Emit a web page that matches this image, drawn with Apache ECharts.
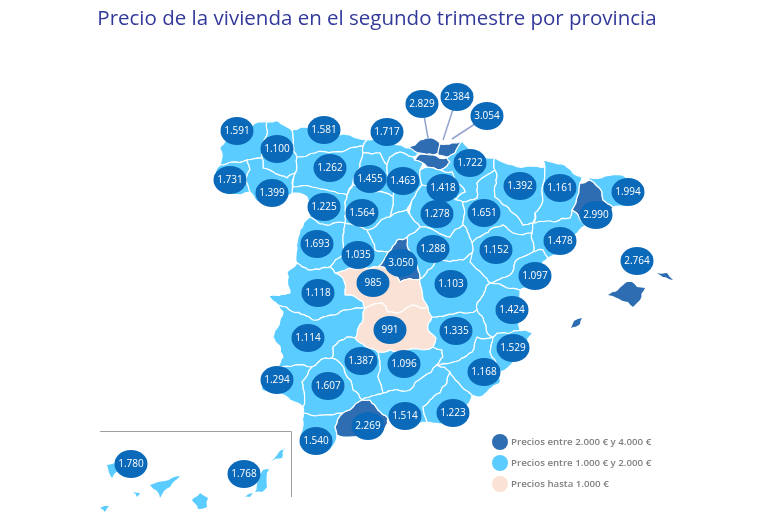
<!DOCTYPE html>
<html>
<head>
<meta charset="utf-8">
<style>html,body{margin:0;padding:0;background:#fff}#main{width:768px;height:527px}</style>
<script src="https://cdn.jsdelivr.net/npm/echarts@6/dist/echarts.min.js"></script>
</head>
<body>
<div id="main"></div>
<script>
// precios por provincia (€/m2)
var provincias = ['A Coruña','Lugo','Pontevedra','Ourense','Asturias','Cantabria','León','Palencia','Burgos','Zamora','Valladolid',
  'La Rioja','Soria','Navarra','Huesca','Lleida','Girona','Barcelona','Zaragoza','Tarragona','Salamanca','Ávila','Madrid','Guadalajara',
  'Teruel','Toledo','Castellón','Cáceres','Cuenca','Valencia','Ciudad Real','Albacete','Badajoz','Alicante','Córdoba','Jaén','Murcia',
  'Huelva','Sevilla','Cádiz','Málaga','Granada','Almería','Santa Cruz de Tenerife','Las Palmas','Baleares','Bizkaia','Gipuzkoa','Álava'];
var precios = [1591,1100,1731,1399,1581,1717,1262,1455,1463,1225,1564,
  1418,1278,1722,1392,1161,1994,2990,1651,1478,1693,1035,3050,1288,
  1152,985,1097,1118,1103,1424,991,1335,1114,1529,1387,1096,1168,
  1294,1607,1540,2269,1514,1223,1780,1768,2764,2829,2384,3054];

// tramos de la leyenda
var tramos = ['Precios entre 2.000 € y 4.000 €','Precios entre 1.000 € y 2.000 €','Precios hasta 1.000 €'];

// islas: sin borde blanco, si no desaparecen
var islas = ['Santa Cruz de Tenerife','Las Palmas','Baleares'];

// contornos dibujados a mano: x,y de cada vertice, cp = donde va la burbuja, tip = final de la linea
var contornos = {
  'A Coruña': {cp:[237,131], p:['267,122 258,122 245,127 232,128 226,140 220,147 222,157 220,165 232,162 247,160 262,158 263,147 267,135']},
  'Lugo': {cp:[277,149], p:['267,122 278,121 292,130 293,145 297,157 296,172 287,178 263,168 262,158 263,147 267,135']},
  'Pontevedra': {cp:[230,180], p:['220,165 232,162 247,160 250,170 246,180 250,192 232,194 218,190 214,178']},
  'Ourense': {cp:[272,193], p:['247,160 262,158 263,168 287,178 296,172 292,183 293,193 287,198 272,203 258,202 250,192 246,180 250,170']},
  'Asturias': {cp:[324,130], p:['292,130 310,128 330,131 350,135 367,140 363,146 350,148 333,152 315,153 297,157 293,145']},
  'Cantabria': {cp:[387,132], p:['367,140 385,140 407,148 415,145 420,153 416,156 413,157 400,152 390,157 387,165 380,153 363,153 363,146']},
  'León': {cp:[330,168], p:['297,157 315,153 333,152 350,148 363,146 363,153 360,167 353,183 347,195 330,191 293,187 296,172']},
  'Palencia': {cp:[370,179], p:['363,153 380,153 387,165 390,180 393,197 375,192 353,185 360,167']},
  'Burgos': {cp:[403,181], p:['387,165 390,157 400,152 413,157 415,160 423,163 420,170 422,185 412,200 407,210 390,217 393,205 393,197 390,180']},
  'Bizkaia': {cp:[422,104], tip:[428,138], p:['409,148 415,145 420,140 432,138 440,144 439,153 433,155 420,153']},
  'Gipuzkoa': {cp:[457,97], tip:[443,140], p:['440,144 452,143 462,141 455,153 447,157 438,155']},
  'Álava': {cp:[487,116], tip:[452,139], p:['415,160 420,154 433,155 447,158 450,162 447,166 440,170 427,167 423,163']},
  'Navarra': {cp:[470,163], p:['462,141 470,150 487,158 495,158 495,170 487,175 477,183 477,198 470,200 463,202 456,200 465,192 452,172 440,170 447,166 450,162 447,158 455,153']},
  'La Rioja': {cp:[443,188], p:['420,170 427,167 440,170 452,172 465,192 456,200 440,192 422,185']},
  'Soria': {cp:[437,214], p:['422,185 440,192 456,200 463,202 463,225 450,237 437,232 420,227 410,215 412,200']},
  'Zaragoza': {cp:[484,213], p:['495,170 495,197 513,213 523,225 533,223 532,233 513,233 503,225 483,235 472,243 463,225 463,202 470,200 477,198 477,183 487,175']},
  'Huesca': {cp:[520,186], p:['495,158 513,165 530,166 545,167 543,185 543,200 535,213 533,223 523,225 513,213 495,197 495,170']},
  'Lleida': {cp:[560,188], p:['545,167 543,160 555,163 567,167 582,177 580,183 578,195 572,210 570,218 555,222 535,223 535,213 543,200 543,185']},
  'Barcelona': {cp:[596,215], p:['580,183 590,180 602,192 603,200 613,207 608,218 600,228 585,226 572,210 578,195']},
  'Girona': {cp:[628,192], p:['582,177 590,178 605,176 622,175 643,190 633,202 613,207 603,200 602,192 590,180']},
  'Tarragona': {cp:[560,241], p:['533,223 555,222 570,218 572,210 585,226 575,235 565,250 548,258 543,250 533,252 532,240 532,233']},
  'Teruel': {cp:[496,250], p:['472,243 483,235 503,225 513,233 532,233 532,240 533,252 520,258 515,262 510,275 490,283 483,275 470,262 473,250']},
  'Castellón': {cp:[535,276], p:['533,252 543,250 548,258 543,262 530,285 520,290 507,288 490,283 510,275 515,262 520,258']},
  'Guadalajara': {cp:[433,249], p:['420,227 437,232 450,237 463,225 472,243 473,250 472,253 463,260 437,260 428,270 420,279 418,270 413,260 407,245 407,237 417,230']},
  'Madrid': {cp:[401,263], p:['407,237 397,240 388,252 378,267 393,272 400,282 420,279 418,270 413,260 407,245']},
  'Segovia': {p:['367,230 387,217 390,217 407,210 410,215 420,227 417,230 407,237 397,240 388,252 375,250 372,240']},
  'Valladolid': {cp:[362,213], p:['347,195 353,185 375,192 393,197 393,205 390,217 387,217 367,230 345,223 345,210']},
  'Zamora': {cp:[324,207], p:['293,187 330,191 347,195 345,210 345,223 330,225 320,224 310,217 307,197 292,193']},
  'Salamanca': {cp:[317,244], p:['310,217 320,224 330,225 345,223 343,235 343,255 330,267 308,270 297,263 297,243 300,230']},
  'Ávila': {cp:[358,255], p:['345,223 367,230 372,240 375,250 388,252 378,267 360,268 335,273 330,267 343,255 343,235']},
  'Toledo': {cp:[373,283], p:['343,278 335,273 360,268 378,267 393,272 400,282 420,279 422,290 428,307 412,305 403,311 388,312 382,303 365,308 363,302 345,295']},
  'Ciudad Real': {cp:[390,330], p:['365,308 382,303 388,312 403,311 412,305 428,307 432,317 428,330 436,338 433,347 402,352 378,352 355,338 363,317']},
  'Cáceres': {cp:[318,293], p:['297,263 308,270 330,267 335,273 343,278 345,295 363,302 365,308 347,310 335,315 313,320 293,312 278,305 268,295 290,293 287,272']},
  'Badajoz': {cp:[308,338], p:['278,305 293,312 313,320 335,315 347,310 365,308 363,317 355,338 347,337 333,347 332,358 325,358 312,367 278,367 283,357 273,337 283,312']},
  'Córdoba': {cp:[361,361], p:['347,337 355,338 378,352 378,377 383,393 362,400 353,390 345,373 340,363 332,358 333,347']},
  'Jaén': {cp:[404,364], p:['378,352 402,352 433,347 442,350 443,357 437,365 423,377 410,390 383,393 378,377']},
  'Huelva': {cp:[277,380], p:['278,367 312,367 302,382 303,407 290,400 277,393 262,390 262,377']},
  'Sevilla': {cp:[328,386], p:['312,367 325,358 332,358 340,363 345,373 353,390 362,400 350,410 343,413 320,415 303,413 303,407 302,382']},
  'Cádiz': {cp:[316,441], p:['303,413 320,415 343,413 335,427 337,435 330,450 318,453 305,445 300,435 303,425']},
  'Málaga': {cp:[368,426], p:['343,413 350,410 362,400 370,400 378,410 388,418 385,428 370,435 350,437 337,435 335,427']},
  'Granada': {cp:[405,416], p:['362,400 383,393 410,390 423,377 437,365 450,372 447,383 430,400 423,407 427,422 410,430 395,428 388,418 378,410 370,400']},
  'Almería': {cp:[453,413], p:['450,372 458,382 472,395 463,410 455,425 440,424 427,422 423,407 430,400 447,383']},
  'Murcia': {cp:[484,372], p:['437,365 450,363 472,352 477,337 493,337 490,352 500,372 500,383 480,397 472,395 458,382 450,372']},
  'Alicante': {cp:[513,348], p:['493,337 497,333 517,330 533,333 517,357 500,372 490,352']},
  'Valencia': {cp:[512,310], p:['490,283 507,288 520,290 517,310 520,330 497,333 493,337 487,333 483,318 477,310 477,303 487,285']},
  'Albacete': {cp:[456,331], p:['432,317 460,312 477,310 483,318 487,333 493,337 477,337 472,352 450,363 437,365 443,357 442,350 433,347 436,338 428,330']},
  'Cuenca': {cp:[451,284], p:['420,279 428,270 437,260 463,260 472,253 470,262 483,275 490,283 487,285 477,303 477,310 460,312 432,317 428,307 422,290']},
  'Baleares': {cp:[637,261], p:['608,295 618,290 627,282 632,282 637,287 645,288 640,300 633,307 628,302 617,298', '657,273 667,273 673,280 663,277', '571,328 574,321 582,318 580,324']},
  'Santa Cruz de Tenerife': {cp:[131,464], p:['107,465 115,463 118,470 112,478', '150,485 165,481 180,476 170,487 160,498', '133,492 140,493 137,497', '100,508 109,506 105,512']},
  'Las Palmas': {cp:[244,474], p:['192,500 200,493 208,498 207,507 198,509', '255,492 263,470 269,469 267,487 262,492', '245,497 253,493 250,497', '270,462 285,448 282,458']}
};

// quiebra cada tramo largo igual en las dos provincias vecinas, para que la frontera no sea recta
function quebrar(a, b, salida) {
  var dx = b[0] - a[0], dy = b[1] - a[1];
  var len = Math.sqrt(dx * dx + dy * dy);
  if (len < 5) {
    salida.push(a);
    return;
  }
  var alReves = a[0] > b[0] || (a[0] === b[0] && a[1] > b[1]);
  var p = alReves ? b : a, q = alReves ? a : b;
  var h = Math.sin(p[0] * 12.9898 + p[1] * 78.233 + q[0] * 37.719 + q[1] * 4.581) * 43758.5453;
  h -= Math.floor(h);
  var desvio = Math.max(-2, Math.min(2, (h - 0.5) * len * 0.24));
  var nx = -(q[1] - p[1]) / len, ny = (q[0] - p[0]) / len;
  var m = [(a[0] + b[0]) / 2 + nx * desvio, (a[1] + b[1]) / 2 + ny * desvio];
  quebrar(a, m, salida);
  quebrar(m, b, salida);
}

function aAnillo(txt) {
  var puntos = txt.split(' ').map(function (par) {
    var c = par.split(',');
    return [+c[0], +c[1]];
  });
  var salida = [];
  puntos.forEach(function (a, i) {
    quebrar(a, puntos[(i + 1) % puntos.length], salida);
  });
  salida.push(salida[0]);
  return salida.map(aGeo);
}

function aGeo(punto) {
  return [punto[0], -punto[1]];
}

var features = Object.keys(contornos).map(function (nombre) {
  var c = contornos[nombre];
  var props = {name: nombre};
  if (c.cp) props.cp = aGeo(c.cp);
  return {
    type: 'Feature',
    properties: props,
    geometry: {
      type: 'MultiPolygon',
      coordinates: c.p.map(function (t) {
        return [aAnillo(t)];
      })
    }
  };
});
echarts.registerMap('espana', {type: 'FeatureCollection', features: features});

function formatoPrecio(v) {
  return v >= 1000 ? Math.floor(v / 1000) + '.' + String(v % 1000).padStart(3, '0') : String(v);
}

// lineas de las tres provincias vascas
var lineas = provincias.filter(function (n) {
  return contornos[n].tip;
}).map(function (n) {
  return {coords: [aGeo(contornos[n].cp), aGeo(contornos[n].tip)]};
});

var burbujas = provincias.map(function (n, i) {
  var cp = aGeo(contornos[n].cp);
  return {name: n, value: [cp[0], cp[1], precios[i]]};
});

var vista = {
  map: 'espana',
  roam: false,
  silent: true,
  aspectScale: 1,
  boundingCoords: [[0, 0], [768, -527]],
  layoutCenter: ['50%', '50%'],
  layoutSize: 768
};

var chart = echarts.init(document.getElementById('main'));
chart.setOption({
  animation: false,
  title: {
    text: 'Precio de la vivienda en el segundo trimestre por provincia',
    left: 372,
    textAlign: 'center',
    top: 4,
    textStyle: {fontFamily: 'Open Sans', fontSize: 20.5, fontWeight: 'normal', color: '#33399a'}
  },
  visualMap: {
    type: 'piecewise',
    seriesIndex: 0,
    left: 492,
    top: 434,
    padding: 0,
    orient: 'vertical',
    align: 'left',
    selectedMode: false,
    itemSymbol: 'circle',
    itemWidth: 16,
    itemHeight: 16,
    itemGap: 5,
    textGap: 3,
    textStyle: {fontFamily: 'Open Sans', fontSize: 9.7, fontWeight: 600, color: '#7f7f7f'},
    pieces: [
      {gt: 2000, lte: 4000, label: tramos[0], color: '#2e6db1'},
      {gt: 1000, lte: 2000, label: tramos[1], color: '#5accff'},
      {lte: 1000, label: tramos[2], color: '#fae3d6'}
    ]
  },
  // geo invisible, solo para colocar las burbujas
  geo: Object.assign({}, vista, {
    itemStyle: {areaColor: 'transparent', borderWidth: 0},
    label: {show: false}
  }),
  graphic: [{
    type: 'polyline',
    shape: {points: [[100, 431.5], [291.5, 431.5], [291.5, 497]]},
    style: {stroke: '#a0a0a0', lineWidth: 1, fill: null}
  }],
  series: [
    Object.assign({}, vista, {
      type: 'map',
      label: {show: false},
      itemStyle: {areaColor: '#5accff', borderColor: '#ffffff', borderWidth: 1.2},
      data: provincias.map(function (n, i) {
        var d = {name: n, value: precios[i]};
        if (islas.indexOf(n) >= 0) d.itemStyle = {borderWidth: 0};
        return d;
      })
    }),
    {
      type: 'lines',
      coordinateSystem: 'geo',
      silent: true,
      z: 3,
      lineStyle: {color: '#95a3cf', width: 1.5, opacity: 1},
      data: lineas
    },
    {
      type: 'scatter',
      coordinateSystem: 'geo',
      silent: true,
      z: 4,
      symbol: 'circle',
      symbolSize: [33, 28],
      itemStyle: {color: '#0a69b8', opacity: 1},
      label: {
        show: true,
        position: 'inside',
        fontFamily: 'Open Sans',
        fontSize: 10,
        color: '#ffffff',
        formatter: function (p) {
          return formatoPrecio(p.value[2]);
        }
      },
      data: burbujas
    }
  ]
});
</script>
</body>
</html>
